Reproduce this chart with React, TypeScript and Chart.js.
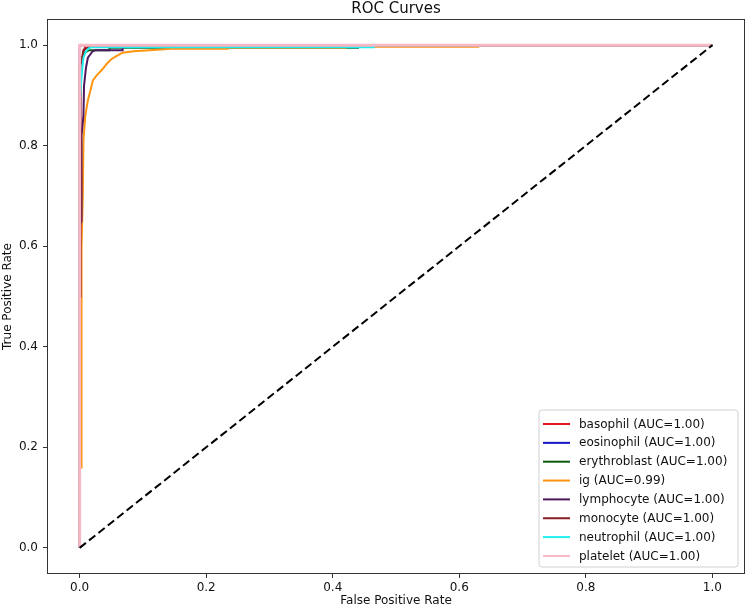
import React, { useEffect, useRef } from "react";
import { Chart, registerables } from "chart.js";

Chart.register(...registerables);

// ---- data ----
const classNames = ["basophil", "eosinophil", "erythroblast", "ig", "lymphocyte", "monocyte", "neutrophil", "platelet"];
const aucValues = ["1.00", "1.00", "1.00", "0.99", "1.00", "1.00", "1.00", "1.00"];
const classColors = ["#e0141a", "#1414c8", "#0a5a12", "#ff9410", "#4e1860", "#8a1c24", "#1ef0f0", "#f7b8c6"];
const classWidths = [2, 2, 2, 2, 2, 2, 2, 3];

const basophilFpr = [0, 0, 0.005, 0.007, 0.01, 1];
const basophilTpr = [0, 0.96, 0.98, 0.99, 1, 1];

const eosinophilFpr = [0, 0, 0.002, 1];
const eosinophilTpr = [0, 0.995, 1, 1];

const erythroblastFpr = [0, 0, 0.004, 0.008, 0.015, 0.047, 0.047, 0.44, 0.44, 1];
const erythroblastTpr = [0, 0.96, 0.975, 0.985, 0.99, 0.99, 0.995, 0.995, 1, 1];

const igFpr = [0, 0, 0.003, 0.003, 0.005, 0.006, 0.009, 0.013, 0.017, 0.021, 0.027, 0.036, 0.043, 0.05, 0.058, 0.068, 0.085, 0.11, 0.145, 0.234, 0.234, 0.42, 0.42, 0.63, 0.63, 1];
const igTpr = [0, 0.16, 0.16, 0.6, 0.7, 0.81, 0.86, 0.89, 0.91, 0.93, 0.94, 0.952, 0.963, 0.972, 0.978, 0.985, 0.988, 0.99, 0.993, 0.993, 0.995, 0.995, 0.997, 0.997, 1, 1];

const lymphocyteFpr = [0, 0, 0.003, 0.003, 0.006, 0.007, 0.01, 0.013, 0.02, 0.025, 0.068, 0.068, 1];
const lymphocyteTpr = [0, 0.64, 0.65, 0.82, 0.86, 0.92, 0.955, 0.975, 0.987, 0.99, 0.99, 1, 1];

const monocyteFpr = [0, 0, 0.0015, 0.0015, 0.004, 0.006, 0.01, 0.016, 0.15, 0.15, 1];
const monocyteTpr = [0, 0.5, 0.5, 0.96, 0.975, 0.99, 0.993, 0.997, 0.997, 1, 1];

const neutrophilFpr = [0, 0, 0.002, 0.004, 0.006, 0.01, 0.015, 0.02, 0.465, 0.465, 1];
const neutrophilTpr = [0, 0.88, 0.92, 0.95, 0.975, 0.988, 0.994, 0.996, 0.996, 1, 1];

const plateletFpr = [0, 0, 1];
const plateletTpr = [0, 1, 1];

const diagonalFpr = [0, 1];
const diagonalTpr = [0, 1];

const xTicks = [0, 0.2, 0.4, 0.6, 0.8, 1.0];
const yTicks = [0, 0.2, 0.4, 0.6, 0.8, 1.0];

const titleText = "ROC Curves";
const xTitle = "False Positive Rate";
const yTitle = "True Positive Rate";

const allFpr = [basophilFpr, eosinophilFpr, erythroblastFpr, igFpr, lymphocyteFpr, monocyteFpr, neutrophilFpr, plateletFpr];
const allTpr = [basophilTpr, eosinophilTpr, erythroblastTpr, igTpr, lymphocyteTpr, monocyteTpr, neutrophilTpr, plateletTpr];

const FONT = "'DejaVu Sans', sans-serif";

const zip = (xs: number[], ys: number[]) => xs.map((x, i) => ({ x, y: ys[i] }));

const framePlugin = {
  id: "frameTitleLegend",
  afterDraw(chart: any) {
    const { ctx, chartArea } = chart;
    const { left, right, top, bottom } = chartArea;
    ctx.save();
    // frame
    ctx.strokeStyle = "#333";
    ctx.lineWidth = 1;
    ctx.strokeRect(Math.round(left) - 0.5, Math.round(top) - 0.5, Math.round(right - left) + 1, Math.round(bottom - top) + 1);
    // title
    ctx.fillStyle = "#111";
    ctx.font = `15px ${FONT}`;
    ctx.textAlign = "center";
    ctx.textBaseline = "middle";
    ctx.fillText(titleText, (left + right) / 2, 9);
    // legend
    const lx = 539, ly = 410, lw = 199, lh = 157;
    const r = 3;
    ctx.beginPath();
    ctx.moveTo(lx + r, ly);
    ctx.lineTo(lx + lw - r, ly);
    ctx.quadraticCurveTo(lx + lw, ly, lx + lw, ly + r);
    ctx.lineTo(lx + lw, ly + lh - r);
    ctx.quadraticCurveTo(lx + lw, ly + lh, lx + lw - r, ly + lh);
    ctx.lineTo(lx + r, ly + lh);
    ctx.quadraticCurveTo(lx, ly + lh, lx, ly + lh - r);
    ctx.lineTo(lx, ly + r);
    ctx.quadraticCurveTo(lx, ly, lx + r, ly);
    ctx.closePath();
    ctx.fillStyle = "rgba(255,255,255,0.85)";
    ctx.fill();
    ctx.strokeStyle = "#d0d0d0";
    ctx.stroke();
    ctx.font = `12px ${FONT}`;
    ctx.textAlign = "left";
    ctx.textBaseline = "middle";
    classNames.forEach((name, i) => {
      const cy = ly + 14 + i * 18.85;
      ctx.strokeStyle = classColors[i];
      ctx.lineWidth = 2;
      ctx.beginPath();
      ctx.moveTo(lx + 4, cy);
      ctx.lineTo(lx + 31, cy);
      ctx.stroke();
      ctx.fillStyle = "#111";
      ctx.fillText(`${name} (AUC=${aucValues[i]})`, lx + 40, cy + 0.5);
    });
    ctx.restore();
  },
};

export default function App() {
  const canvasRef = useRef<HTMLCanvasElement | null>(null);

  useEffect(() => {
    if (!canvasRef.current) return;
    const datasets: any[] = classNames.map((name, i) => ({
      label: `${name} (AUC=${aucValues[i]})`,
      data: zip(allFpr[i], allTpr[i]),
      borderColor: classColors[i],
      backgroundColor: classColors[i],
      borderWidth: classWidths[i],
      pointRadius: 0,
      tension: 0,
      fill: false,
      order: classNames.length - i,
    }));
    datasets.push({
      label: "diagonal",
      data: zip(diagonalFpr, diagonalTpr),
      borderColor: "#000",
      borderWidth: 2,
      borderDash: [8, 4],
      pointRadius: 0,
      fill: false,
      order: 0,
    });

    const tickFont = { family: FONT, size: 12 };
    const chart = new Chart(canvasRef.current, {
      type: "line",
      data: { datasets },
      plugins: [framePlugin],
      options: {
        animation: false,
        responsive: false,
        maintainAspectRatio: false,
        layout: { padding: { left: 0, right: 3, top: 20, bottom: 0 } },
        plugins: {
          legend: { display: false },
          tooltip: { enabled: false },
          title: { display: false },
        },
        scales: {
          x: {
            type: "linear",
            min: -0.05,
            max: 1.05,
            afterBuildTicks: (scale: any) => {
              scale.ticks = xTicks.map((v) => ({ value: v }));
            },
            afterFit: (scale: any) => {
              scale.height = 38;
            },
            ticks: {
              color: "#111",
              font: tickFont,
              padding: 3,
              maxRotation: 0,
              autoSkip: false,
              callback: (v: any) => Number(v).toFixed(1),
            },
            grid: { display: true, drawOnChartArea: false, drawTicks: true, tickLength: 5, color: "#333" },
            border: { display: false },
            title: { display: true, text: xTitle, color: "#111", font: tickFont, padding: { top: 0, bottom: 3 } },
          },
          y: {
            type: "linear",
            min: -0.05,
            max: 1.05,
            afterBuildTicks: (scale: any) => {
              scale.ticks = yTicks.map((v) => ({ value: v }));
            },
            afterFit: (scale: any) => {
              scale.width = 48;
            },
            ticks: {
              color: "#111",
              font: tickFont,
              padding: 5,
              autoSkip: false,
              callback: (v: any) => Number(v).toFixed(1),
            },
            grid: { display: true, drawOnChartArea: false, drawTicks: true, tickLength: 5, color: "#333" },
            border: { display: false },
            title: { display: true, text: yTitle, color: "#111", font: tickFont, padding: { top: 1, bottom: 0 } },
          },
        },
      } as any,
    });
    return () => chart.destroy();
  }, []);

  return (
    <div style={{ position: "absolute", left: 0, top: 0, width: 747, height: 611, background: "#fff" }}>
      <canvas ref={canvasRef} width={747} height={611} style={{ display: "block", width: 747, height: 611 }} />
    </div>
  );
}
